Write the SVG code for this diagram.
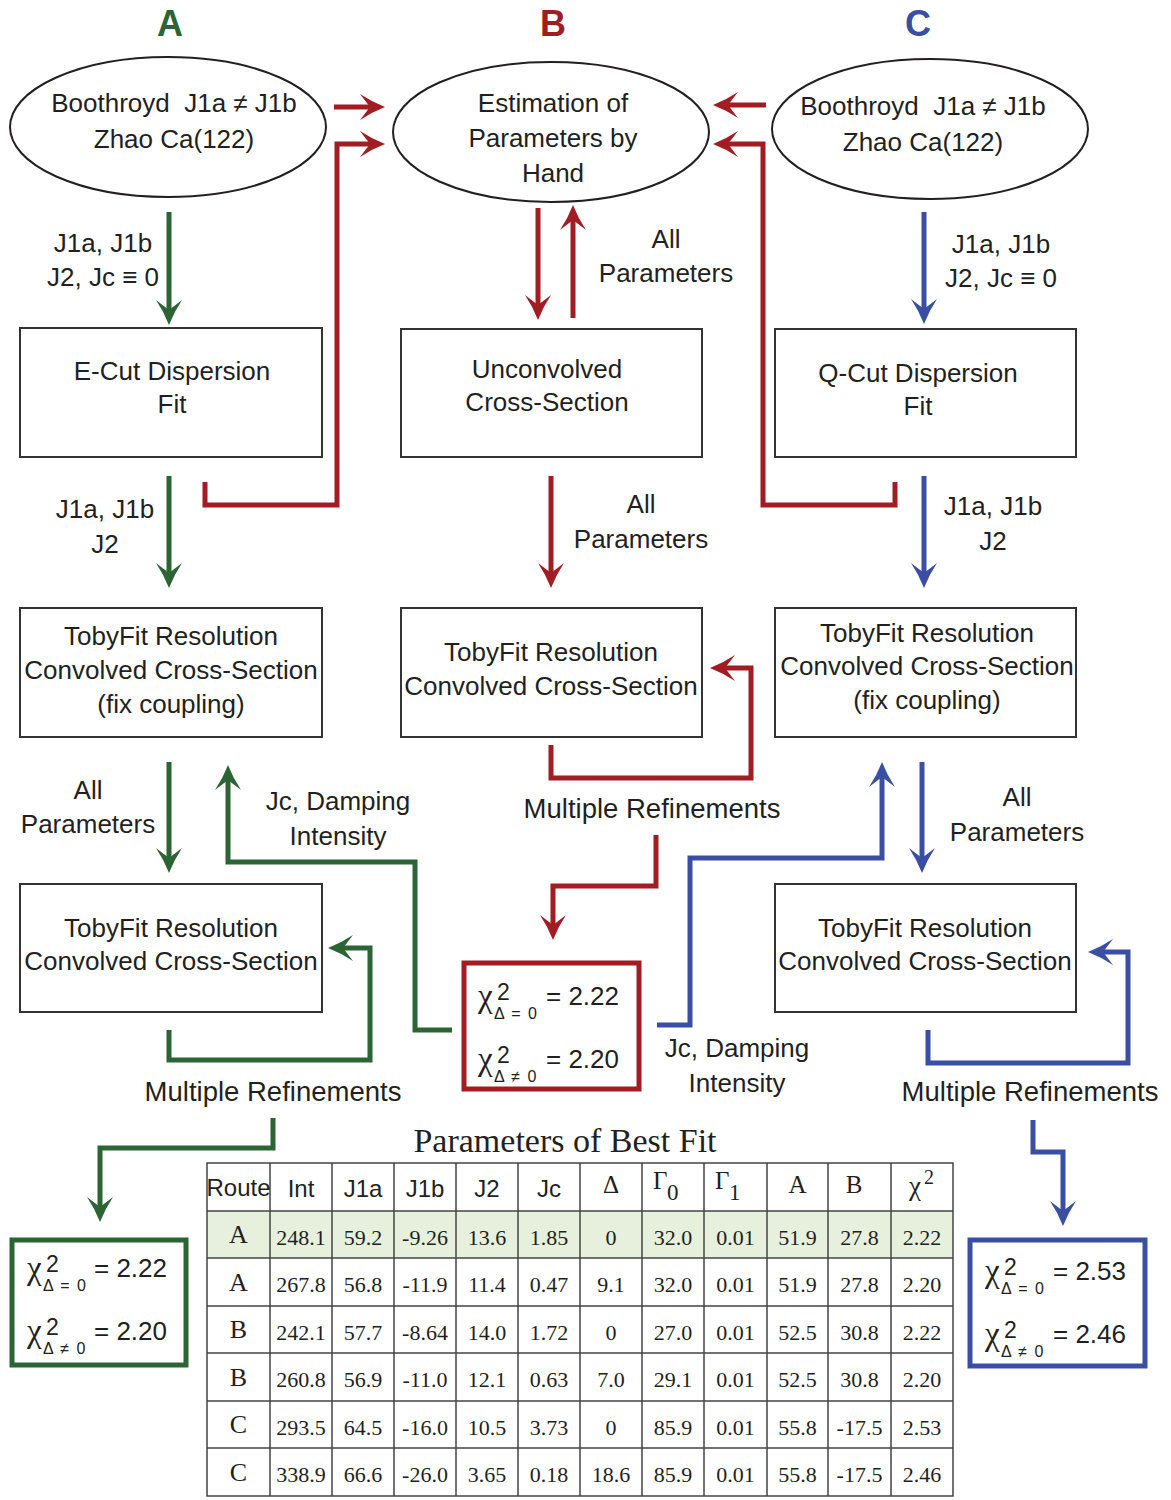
<svg xmlns="http://www.w3.org/2000/svg" width="1171" height="1500" viewBox="0 0 1171 1500">
<style>
.t{font-family:"Liberation Sans",Arial,sans-serif;font-size:26px;fill:#231f20;text-anchor:middle}
.mr{font-size:27.5px}
.pre{white-space:pre}
.box{fill:#fff;stroke:#333;stroke-width:2}
.ell{fill:#fff;stroke:#231f20;stroke-width:2}
.cg{stroke:#2b6534;stroke-width:5;fill:none}
.cr{stroke:#a11d23;stroke-width:5;fill:none}
.cb{stroke:#3a4ea3;stroke-width:5;fill:none}
.chi{font-family:"Liberation Sans",Arial,sans-serif;fill:#231f20}
.chig{font-family:"Liberation Serif","Times New Roman",serif;font-size:33px}
.sup{font-size:23px}
.sub{font-size:16px;word-spacing:3px}
.main{font-size:26px}
.ttl{font-family:"Liberation Sans",Arial,sans-serif;font-size:36px;font-weight:bold;text-anchor:middle}
.ser{font-family:"Liberation Serif","Times New Roman",serif;fill:#231f20}
.td{font-family:"Liberation Serif","Times New Roman",serif;font-size:22px;fill:#231f20;text-anchor:middle}
.rl{font-family:"Liberation Serif","Times New Roman",serif;font-size:26px;fill:#231f20;text-anchor:middle}
.th{font-family:"Liberation Sans",Arial,sans-serif;font-size:24px;fill:#231f20;text-anchor:middle}
.grid{stroke:#444;stroke-width:1.5;fill:none}
</style>
<defs>
<marker id="mg" markerUnits="userSpaceOnUse" markerWidth="40" markerHeight="40" refX="0" refY="0" orient="auto" overflow="visible"><path d="M15,0 Q2,-5 -10,-13 L0,0 L-10,13 Q2,5 15,0Z" fill="#2b6534"/></marker>
<marker id="mr" markerUnits="userSpaceOnUse" markerWidth="40" markerHeight="40" refX="0" refY="0" orient="auto" overflow="visible"><path d="M15,0 Q2,-5 -10,-13 L0,0 L-10,13 Q2,5 15,0Z" fill="#a11d23"/></marker>
<marker id="mb" markerUnits="userSpaceOnUse" markerWidth="40" markerHeight="40" refX="0" refY="0" orient="auto" overflow="visible"><path d="M15,0 Q2,-5 -10,-13 L0,0 L-10,13 Q2,5 15,0Z" fill="#3a4ea3"/></marker>
</defs>
<rect width="1171" height="1500" fill="#fff"/>

<g id="titles">
<text class="ttl" x="170" y="36" fill="#2b6534">A</text>
<text class="ttl" x="553" y="36" fill="#a11d23">B</text>
<text class="ttl" x="918" y="36" fill="#3a4ea3">C</text>
</g>

<g id="connectors">
<path class="cg" d="M169,212 V310" marker-end="url(#mg)"/>
<path class="cg" d="M169,476 V573" marker-end="url(#mg)"/>
<path class="cg" d="M169,762 V858" marker-end="url(#mg)"/>
<path class="cg" d="M169,1030 V1060 H370 V948 H343" marker-end="url(#mg)"/>
<path class="cg" d="M273,1118 V1148 H100 V1207" marker-end="url(#mg)"/>
<path class="cg" d="M452,1030 H415 V862 H228 V780" marker-end="url(#mg)"/>
<path class="cr" d="M334,107 H370" marker-end="url(#mr)"/>
<path class="cr" d="M205,482 V505 H337 V144 H370" marker-end="url(#mr)"/>
<path class="cr" d="M766,105 H728" marker-end="url(#mr)"/>
<path class="cr" d="M895,482 V505 H763 V144 H728" marker-end="url(#mr)"/>
<path class="cr" d="M538,208 V305" marker-end="url(#mr)"/>
<path class="cr" d="M573,318 V220" marker-end="url(#mr)"/>
<path class="cr" d="M551,476 V573" marker-end="url(#mr)"/>
<path class="cr" d="M551,745 V778 H751 V668 H725" marker-end="url(#mr)"/>
<path class="cr" d="M656,835 V886 H553 V925" marker-end="url(#mr)"/>
<path class="cb" d="M924,212 V309" marker-end="url(#mb)"/>
<path class="cb" d="M924,476 V573" marker-end="url(#mb)"/>
<path class="cb" d="M922,762 V858" marker-end="url(#mb)"/>
<path class="cb" d="M928,1030 V1063 H1128 V952 H1103" marker-end="url(#mb)"/>
<path class="cb" d="M1033,1120 V1152 H1063 V1211" marker-end="url(#mb)"/>
<path class="cb" d="M657,1025 H690 V858 H882 V777" marker-end="url(#mb)"/>
</g>

<g id="labels">
<text class="t" x="103" y="252">J1a, J1b</text>
<text class="t" x="103" y="286">J2, Jc ≡ 0</text>
<text class="t" x="105" y="518">J1a, J1b</text>
<text class="t" x="105" y="553">J2</text>
<text class="t" x="88" y="799">All</text>
<text class="t" x="88" y="833">Parameters</text>
<text class="t" x="338" y="810">Jc, Damping</text>
<text class="t" x="338" y="845">Intensity</text>
<text class="t mr" x="273" y="1101">Multiple Refinements</text>
<text class="t" x="666" y="248">All</text>
<text class="t" x="666" y="282">Parameters</text>
<text class="t" x="641" y="513">All</text>
<text class="t" x="641" y="548">Parameters</text>
<text class="t mr" x="652" y="818">Multiple Refinements</text>
<text class="t" x="1001" y="253">J1a, J1b</text>
<text class="t" x="1001" y="287">J2, Jc ≡ 0</text>
<text class="t" x="993" y="515">J1a, J1b</text>
<text class="t" x="993" y="550">J2</text>
<text class="t" x="1017" y="806">All</text>
<text class="t" x="1017" y="841">Parameters</text>
<text class="t" x="737" y="1057">Jc, Damping</text>
<text class="t" x="737" y="1092">Intensity</text>
<text class="t mr" x="1030" y="1101">Multiple Refinements</text>
</g>

<g id="ell-A">
<ellipse class="ell" cx="168" cy="127" rx="158" ry="70"/>
<text class="t pre" x="174" y="112">Boothroyd  J1a ≠ J1b</text>
<text class="t" x="174" y="148">Zhao Ca(122)</text>
</g>
<g id="ell-B">
<ellipse class="ell" cx="551" cy="132" rx="158" ry="70"/>
<text class="t" x="553" y="112">Estimation of</text>
<text class="t" x="553" y="147">Parameters by</text>
<text class="t" x="553" y="182">Hand</text>
</g>
<g id="ell-C">
<ellipse class="ell" cx="930" cy="129" rx="158" ry="70"/>
<text class="t pre" x="923" y="115">Boothroyd  J1a ≠ J1b</text>
<text class="t" x="923" y="151">Zhao Ca(122)</text>
</g>

<g id="ecut">
<rect class="box" x="20" y="328" width="302" height="129"/>
<text class="t" x="172" y="380">E-Cut Dispersion</text>
<text class="t" x="172" y="413">Fit</text>
</g>
<g id="unconv">
<rect class="box" x="401" y="329" width="301" height="128"/>
<text class="t" x="547" y="378">Unconvolved</text>
<text class="t" x="547" y="411">Cross-Section</text>
</g>
<g id="qcut">
<rect class="box" x="775" y="329" width="301" height="128"/>
<text class="t" x="918" y="382">Q-Cut Dispersion</text>
<text class="t" x="918" y="415">Fit</text>
</g>

<g id="tobyA1">
<rect class="box" x="20" y="608" width="302" height="129"/>
<text class="t" x="171" y="645">TobyFit Resolution</text>
<text class="t" x="171" y="679">Convolved Cross-Section</text>
<text class="t" x="171" y="713">(fix coupling)</text>
</g>
<g id="tobyB">
<rect class="box" x="401" y="608" width="301" height="129"/>
<text class="t" x="551" y="661">TobyFit Resolution</text>
<text class="t" x="551" y="695">Convolved Cross-Section</text>
</g>
<g id="tobyC1">
<rect class="box" x="775" y="608" width="301" height="129"/>
<text class="t" x="927" y="642">TobyFit Resolution</text>
<text class="t" x="927" y="675">Convolved Cross-Section</text>
<text class="t" x="927" y="709">(fix coupling)</text>
</g>
<g id="tobyA2">
<rect class="box" x="20" y="884" width="302" height="128"/>
<text class="t" x="171" y="937">TobyFit Resolution</text>
<text class="t" x="171" y="970">Convolved Cross-Section</text>
</g>
<g id="tobyC2">
<rect class="box" x="775" y="884" width="301" height="128"/>
<text class="t" x="925" y="937">TobyFit Resolution</text>
<text class="t" x="925" y="970">Convolved Cross-Section</text>
</g>

<g id="chiB">
<rect x="464" y="963" width="175" height="126" fill="#fff" stroke="#a11d23" stroke-width="5"/>
<text class="chi"><tspan class="chig" x="478" y="1007">χ</tspan><tspan class="sup" x="497" y="1000">2</tspan><tspan class="sub" x="494" y="1019">Δ = 0</tspan><tspan class="main" x="546" y="1005">= 2.22</tspan></text>
<text class="chi"><tspan class="chig" x="478" y="1070">χ</tspan><tspan class="sup" x="497" y="1063">2</tspan><tspan class="sub" x="494" y="1082">Δ ≠ 0</tspan><tspan class="main" x="546" y="1068">= 2.20</tspan></text>
</g>
<g id="chiA">
<rect x="12" y="1240" width="174" height="125" fill="#fff" stroke="#2b6534" stroke-width="5"/>
<text class="chi"><tspan class="chig" x="27" y="1279">χ</tspan><tspan class="sup" x="46" y="1272">2</tspan><tspan class="sub" x="43" y="1291">Δ = 0</tspan><tspan class="main" x="94" y="1277">= 2.22</tspan></text>
<text class="chi"><tspan class="chig" x="27" y="1342">χ</tspan><tspan class="sup" x="46" y="1335">2</tspan><tspan class="sub" x="43" y="1354">Δ ≠ 0</tspan><tspan class="main" x="94" y="1340">= 2.20</tspan></text>
</g>
<g id="chiC">
<rect x="970" y="1240" width="175" height="126" fill="#fff" stroke="#3a4ea3" stroke-width="5"/>
<text class="chi"><tspan class="chig" x="985" y="1282">χ</tspan><tspan class="sup" x="1004" y="1275">2</tspan><tspan class="sub" x="1001" y="1294">Δ = 0</tspan><tspan class="main" x="1053" y="1280">= 2.53</tspan></text>
<text class="chi"><tspan class="chig" x="985" y="1345">χ</tspan><tspan class="sup" x="1004" y="1338">2</tspan><tspan class="sub" x="1001" y="1357">Δ ≠ 0</tspan><tspan class="main" x="1053" y="1343">= 2.46</tspan></text>
</g>

<g id="table">
<text class="ser" x="565" y="1152" font-size="34" text-anchor="middle">Parameters of Best Fit</text>
<rect x="207" y="1211" width="746" height="47" fill="#e6f0dc"/>
<rect class="grid" x="207" y="1163" width="746" height="333" stroke-width="2"/>
<path class="grid" d="M207,1211 H953 M207,1258 H953 M207,1306 H953 M207,1353 H953 M207,1401 H953 M207,1448 H953
M270,1163 V1496 M332,1163 V1496 M394,1163 V1496 M456,1163 V1496 M518,1163 V1496 M580,1163 V1496 M642,1163 V1496 M704,1163 V1496 M767,1163 V1496 M828,1163 V1496 M891,1163 V1496"/>
<text class="th" x="238.5" y="1196" font-size="18">Route</text>
<text class="th" x="301" y="1197">Int</text>
<text class="th" x="363" y="1197">J1a</text>
<text class="th" x="425" y="1197">J1b</text>
<text class="th" x="487" y="1197">J2</text>
<text class="th" x="549" y="1197">Jc</text>
<text class="ser" x="611" y="1193" font-size="25" text-anchor="middle">Δ</text>
<text class="ser" font-size="25"><tspan x="653" y="1189">Γ</tspan><tspan x="667" y="1200" font-size="23">0</tspan></text>
<text class="ser" font-size="25"><tspan x="715" y="1189">Γ</tspan><tspan x="729" y="1200" font-size="23">1</tspan></text>
<text class="ser" x="797.5" y="1193" font-size="25" text-anchor="middle">A</text>
<text class="ser" x="854" y="1193" font-size="25" text-anchor="middle">B</text>
<text class="ser" font-size="27"><tspan x="909" y="1195">χ</tspan><tspan x="924" y="1184" font-size="20">2</tspan></text>

<text class="rl" x="238.5" y="1243">A</text>
<text class="rl" x="238.5" y="1291">A</text>
<text class="rl" x="238.5" y="1338">B</text>
<text class="rl" x="238.5" y="1386">B</text>
<text class="rl" x="238.5" y="1433">C</text>
<text class="rl" x="238.5" y="1481">C</text>

<g class="td">
<text x="301" y="1245">248.1</text><text x="363" y="1245">59.2</text><text x="425" y="1245">-9.26</text><text x="487" y="1245">13.6</text><text x="549" y="1245">1.85</text><text x="611" y="1245">0</text><text x="673" y="1245">32.0</text><text x="735.5" y="1245">0.01</text><text x="797.5" y="1245">51.9</text><text x="859.5" y="1245">27.8</text><text x="922" y="1245">2.22</text>
<text x="301" y="1292">267.8</text><text x="363" y="1292">56.8</text><text x="425" y="1292">-11.9</text><text x="487" y="1292">11.4</text><text x="549" y="1292">0.47</text><text x="611" y="1292">9.1</text><text x="673" y="1292">32.0</text><text x="735.5" y="1292">0.01</text><text x="797.5" y="1292">51.9</text><text x="859.5" y="1292">27.8</text><text x="922" y="1292">2.20</text>
<text x="301" y="1340">242.1</text><text x="363" y="1340">57.7</text><text x="425" y="1340">-8.64</text><text x="487" y="1340">14.0</text><text x="549" y="1340">1.72</text><text x="611" y="1340">0</text><text x="673" y="1340">27.0</text><text x="735.5" y="1340">0.01</text><text x="797.5" y="1340">52.5</text><text x="859.5" y="1340">30.8</text><text x="922" y="1340">2.22</text>
<text x="301" y="1387">260.8</text><text x="363" y="1387">56.9</text><text x="425" y="1387">-11.0</text><text x="487" y="1387">12.1</text><text x="549" y="1387">0.63</text><text x="611" y="1387">7.0</text><text x="673" y="1387">29.1</text><text x="735.5" y="1387">0.01</text><text x="797.5" y="1387">52.5</text><text x="859.5" y="1387">30.8</text><text x="922" y="1387">2.20</text>
<text x="301" y="1435">293.5</text><text x="363" y="1435">64.5</text><text x="425" y="1435">-16.0</text><text x="487" y="1435">10.5</text><text x="549" y="1435">3.73</text><text x="611" y="1435">0</text><text x="673" y="1435">85.9</text><text x="735.5" y="1435">0.01</text><text x="797.5" y="1435">55.8</text><text x="859.5" y="1435">-17.5</text><text x="922" y="1435">2.53</text>
<text x="301" y="1482">338.9</text><text x="363" y="1482">66.6</text><text x="425" y="1482">-26.0</text><text x="487" y="1482">3.65</text><text x="549" y="1482">0.18</text><text x="611" y="1482">18.6</text><text x="673" y="1482">85.9</text><text x="735.5" y="1482">0.01</text><text x="797.5" y="1482">55.8</text><text x="859.5" y="1482">-17.5</text><text x="922" y="1482">2.46</text>
</g>
</g>
</svg>
